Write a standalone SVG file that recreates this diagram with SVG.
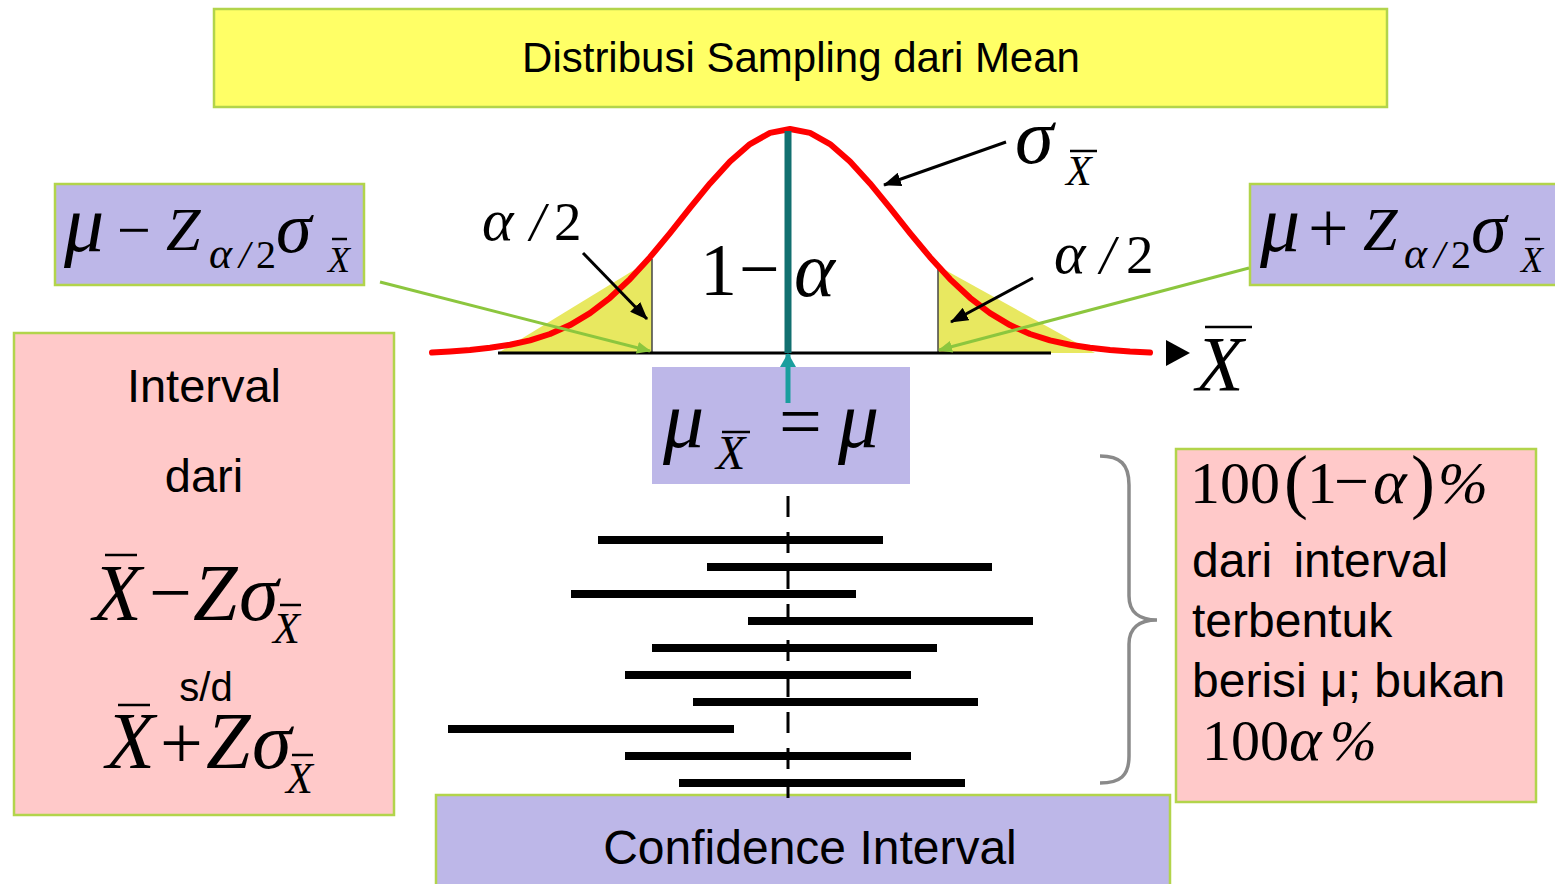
<svg xmlns="http://www.w3.org/2000/svg" width="1555" height="884" viewBox="0 0 1555 884">
<style>
.sans{font-family:"Liberation Sans",Arial,sans-serif;fill:#000}
.m{font-family:"Liberation Serif","Times New Roman",serif;fill:#000}
.i{font-style:italic}
.box{stroke:#B2D44B;stroke-width:2.5}
.yel{fill:#FFFF66}
.pur{fill:#BDB7E8}
.pink{fill:#FFC9C9}
.bar{stroke:#000;stroke-width:8}
.ob{stroke:#000;stroke-width:2.5}
.green{stroke:#8CC63E;stroke-width:3;fill:none}
.blk{stroke:#000;stroke-width:3;fill:none}
</style>
<defs>
<marker id="ahBlack" markerUnits="userSpaceOnUse" markerWidth="18" markerHeight="14" refX="17" refY="7" orient="auto">
<path d="M0,0 L18,7 L0,14 z" fill="#000"/>
</marker>
<marker id="ahGreen" markerUnits="userSpaceOnUse" markerWidth="14" markerHeight="12" refX="13" refY="6" orient="auto">
<path d="M0,0 L14,6 L0,12 z" fill="#8CC63E"/>
</marker>
<marker id="ahTeal" markerUnits="userSpaceOnUse" markerWidth="14" markerHeight="16" refX="13" refY="8" orient="auto">
<path d="M0,0 L14,8 L0,16 z" fill="#1A9E9E"/>
</marker>
</defs>
<rect width="1555" height="884" fill="#fff"/>

<g id="title">
<rect class="box yel" x="214" y="9" width="1173" height="98"/>
<text class="sans" x="801" y="72" font-size="42" text-anchor="middle">Distribusi Sampling dari Mean</text>
</g>

<g id="chart">
<polygon points="498,353 652,353 652,259" fill="#E8E860"/>
<polygon points="938,266 938,353 1095,353" fill="#E8E860"/>
<line x1="652" y1="259" x2="652" y2="353" stroke="#444" stroke-width="1.5"/>
<line x1="938" y1="266" x2="938" y2="353" stroke="#444" stroke-width="1.5"/>
<line x1="498" y1="353" x2="1051" y2="353" stroke="#000" stroke-width="3"/>
<polyline points="432,352.5 450,351.5 470,350 490,347.8 510,344.7 530,340.4 550,334.0 570,325.1 590,313.1 610,297.8 630,279.1 650,257.2 670,233.1 690,207.9 710,183.4 730,161.4 750,144.1 770,132.9 790,129 810,132.9 830,144.1 850,161.4 870,183.4 890,207.9 910,233.1 930,257.2 950,279.1 970,297.8 990,313.1 1010,325.1 1030,334.0 1050,340.4 1070,344.7 1090,347.8 1110,350 1130,351.5 1150,352.5" fill="none" stroke="#FF0000" stroke-width="6" stroke-linecap="round" stroke-linejoin="round"/>
<line x1="788" y1="131" x2="788" y2="353" stroke="#127070" stroke-width="7"/>
<polygon points="1166,340 1166,366 1190,353" fill="#000"/>
<text class="m i" x="1196" y="390" font-size="78">X</text>
<line class="ob" x1="1205" y1="327" x2="1252" y2="327" stroke-width="3"/>
<text class="m" x="700" y="295" font-size="74">1</text>
<text class="m" x="739" y="293" font-size="72">−</text>
<text class="m i" x="794" y="296" font-size="78">α</text>
<text class="m i" x="482" y="240" font-size="60">α</text>
<text class="m i" x="530" y="240" font-size="54">/</text>
<text class="m" x="554" y="240" font-size="55">2</text>
<text class="m i" x="1054" y="273" font-size="60">α</text>
<text class="m i" x="1100" y="273" font-size="54">/</text>
<text class="m" x="1126" y="273" font-size="55">2</text>
<text class="m i" x="1015" y="163" font-size="78">σ</text>
<text class="m i" x="1066" y="185" font-size="42">X</text>
<line class="ob" x1="1070" y1="151" x2="1097" y2="151"/>
</g>

<g id="lower-limit">
<rect class="box pur" x="55" y="184" width="309" height="101"/>
<text class="m i" x="64" y="251" font-size="80">μ</text>
<text class="m" x="117" y="250" font-size="60">−</text>
<text class="m i" x="166" y="250" font-size="62">Z</text>
<text class="m i" x="209" y="268" font-size="44">α</text>
<text class="m i" x="239" y="268" font-size="40">/</text>
<text class="m" x="256" y="268" font-size="40">2</text>
<text class="m i" x="276" y="252" font-size="72">σ</text>
<text class="m i" x="328" y="272" font-size="36">X</text>
<line class="ob" x1="332" y1="239" x2="347" y2="239" stroke-width="2"/>
</g>

<g id="upper-limit">
<rect class="box pur" x="1250" y="184" width="310" height="101"/>
<text class="m i" x="1260" y="251" font-size="80">μ</text>
<text class="m" x="1308" y="252" font-size="72">+</text>
<text class="m i" x="1363" y="250" font-size="62">Z</text>
<text class="m i" x="1404" y="268" font-size="44">α</text>
<text class="m i" x="1434" y="268" font-size="40">/</text>
<text class="m" x="1451" y="268" font-size="40">2</text>
<text class="m i" x="1471" y="252" font-size="72">σ</text>
<text class="m i" x="1521" y="272" font-size="36">X</text>
<line class="ob" x1="1525" y1="239" x2="1540" y2="239" stroke-width="2"/>
</g>

<g id="mean">
<rect class="pur" x="652" y="367" width="258" height="117"/>
<text class="m i" x="663" y="447" font-size="82">μ</text>
<text class="m i" x="716" y="469" font-size="48">X</text>
<line class="ob" x1="722" y1="432" x2="750" y2="432"/>
<text class="m" x="779" y="447" font-size="76">=</text>
<text class="m i" x="838" y="447" font-size="82">μ</text>
</g>

<g id="interval-formula">
<rect class="box pink" x="14" y="333" width="380" height="482"/>
<text class="sans" x="204" y="402" font-size="47" text-anchor="middle">Interval</text>
<text class="sans" x="204" y="492" font-size="47" text-anchor="middle">dari</text>
<text class="m i" x="93" y="620" font-size="80">X</text>
<line class="ob" x1="105" y1="555" x2="137" y2="555" stroke-width="3"/>
<text class="m" x="149" y="618" font-size="76">−</text>
<text class="m i" x="193" y="620" font-size="80">Z</text>
<text class="m i" x="239" y="620" font-size="80">σ</text>
<text class="m i" x="273" y="643" font-size="44">X</text>
<line class="ob" x1="280" y1="605" x2="301" y2="605" stroke-width="2"/>
<text class="sans" x="206" y="701" font-size="40" text-anchor="middle">s/d</text>
<text class="m i" x="106" y="768" font-size="80">X</text>
<line class="ob" x1="118" y1="705" x2="150" y2="705" stroke-width="3"/>
<text class="m" x="160" y="768" font-size="76">+</text>
<text class="m i" x="206" y="768" font-size="80">Z</text>
<text class="m i" x="252" y="768" font-size="80">σ</text>
<text class="m i" x="286" y="793" font-size="44">X</text>
<line class="ob" x1="292" y1="755" x2="313" y2="755" stroke-width="2"/>
</g>

<g id="coverage">
<rect class="box pink" x="1176" y="449" width="360" height="353"/>
<text class="m" font-size="60"><tspan x="1190" y="503">100</tspan><tspan x="1284" y="505" font-size="72">(</tspan><tspan x="1307" y="503">1</tspan><tspan x="1334" y="502" font-size="62">−</tspan><tspan x="1373" y="503" font-size="64" font-style="italic">α</tspan><tspan x="1411" y="505" font-size="72">)</tspan><tspan x="1438" y="503" font-style="italic">%</tspan></text>
<text class="sans" x="1192" y="577" font-size="48" word-spacing="8">dari interval</text>
<text class="sans" x="1192" y="637" font-size="48">terbentuk</text>
<text class="sans" x="1192" y="697" font-size="48">berisi μ; bukan</text>
<text class="m" font-size="58"><tspan x="1202" y="760">100</tspan><tspan x="1289" y="760" font-size="62" font-style="italic">α</tspan><tspan x="1330" y="760" font-size="56" font-style="italic">%</tspan></text>
</g>

<g id="confidence-interval">
<rect class="box pur" x="436" y="795" width="734" height="100"/>
<text class="sans" x="810" y="864" font-size="48" text-anchor="middle">Confidence Interval</text>
</g>

<g id="intervals">
<line x1="788" y1="496" x2="788" y2="798" stroke="#000" stroke-width="3" stroke-dasharray="21 15"/>
<line class="bar" x1="598" y1="540" x2="883" y2="540"/>
<line class="bar" x1="707" y1="567" x2="992" y2="567"/>
<line class="bar" x1="571" y1="594" x2="856" y2="594"/>
<line class="bar" x1="748" y1="621" x2="1033" y2="621"/>
<line class="bar" x1="652" y1="648" x2="937" y2="648"/>
<line class="bar" x1="625" y1="675" x2="911" y2="675"/>
<line class="bar" x1="693" y1="702" x2="978" y2="702"/>
<line class="bar" x1="448" y1="729" x2="734" y2="729"/>
<line class="bar" x1="625" y1="756" x2="911" y2="756"/>
<line class="bar" x1="679" y1="783" x2="965" y2="783"/>
</g>

<g id="brace">
<path d="M1100,456 C1120,456 1129,464 1129,485 L1129,596 C1129,612 1139,620 1157,620 C1139,620 1129,628 1129,644 L1129,756 C1129,776 1120,783 1100,783" fill="none" stroke="#8A8A8A" stroke-width="3.5"/>
</g>

<g id="connectors">
<line class="green" x1="380" y1="282" x2="650" y2="351" marker-end="url(#ahGreen)"/>
<line class="green" x1="1249" y1="268" x2="939" y2="350" marker-end="url(#ahGreen)"/>
<line class="blk" x1="583" y1="253" x2="647" y2="319" marker-end="url(#ahBlack)"/>
<line class="blk" x1="1006" y1="142" x2="884" y2="185" marker-end="url(#ahBlack)"/>
<line class="blk" x1="1033" y1="278" x2="951" y2="322" marker-end="url(#ahBlack)"/>
<line x1="788" y1="403" x2="788" y2="354" stroke="#1A9E9E" stroke-width="5" marker-end="url(#ahTeal)"/>
</g>
</svg>
